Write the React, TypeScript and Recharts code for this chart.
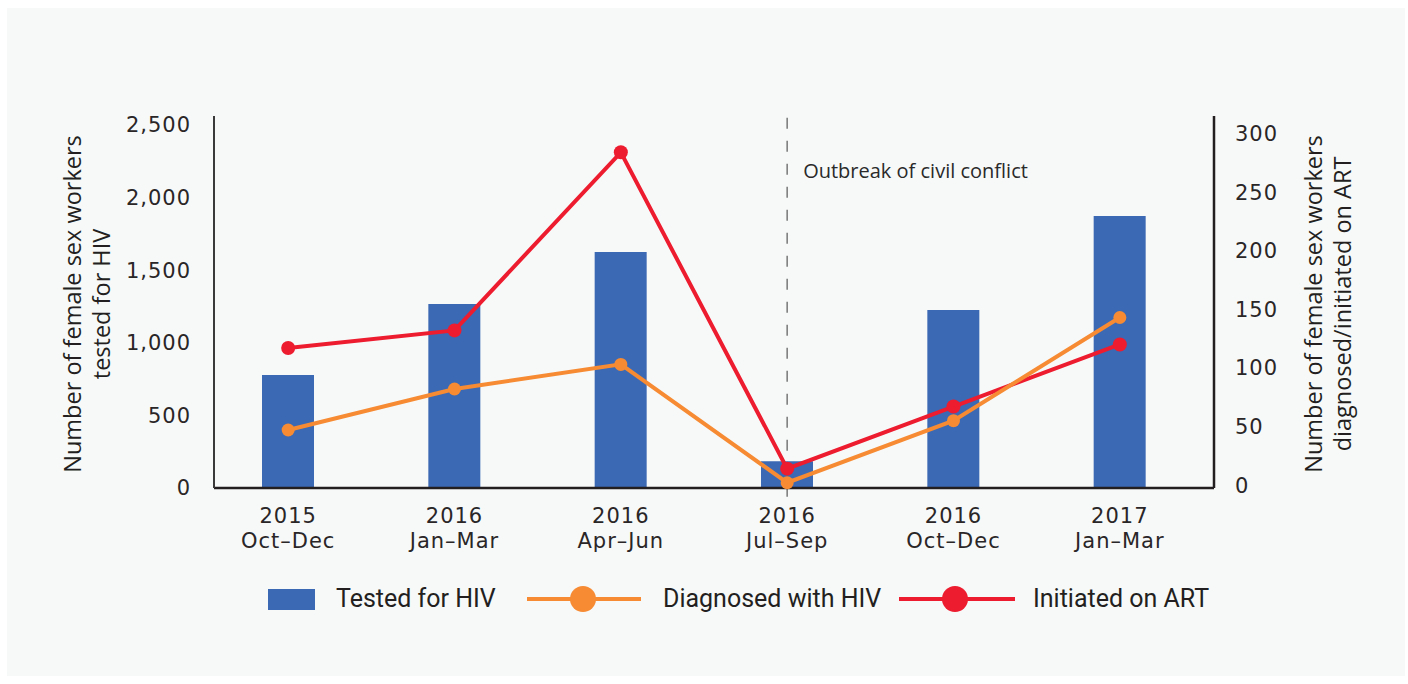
import { ComposedChart, Bar, Line, XAxis, YAxis, ReferenceLine, Legend, Label } from 'recharts';

const years = ['2015', '2016', '2016', '2016', '2016', '2017'];
const quarters = ['Oct–Dec', 'Jan–Mar', 'Apr–Jun', 'Jul–Sep', 'Oct–Dec', 'Jan–Mar'];
const tested = [778, 1267, 1625, 184, 1226, 1873];
const diagnosed = [47, 82, 103, 2, 55, 143];
const initiated = [117, 132, 284, 14, 67, 120];
const leftTicks = [0, 500, 1000, 1500, 2000, 2500];
const rightTicks = [0, 50, 100, 150, 200, 250, 300];
const conflictPeriod = '2016 Jul–Sep';

const data = years.map((y, i) => ({
  period: `${y} ${quarters[i]}`,
  tested: tested[i],
  diagnosed: diagnosed[i],
  initiated: initiated[i],
}));

const BLUE = '#3c69b3';
const ORANGE = '#f68b33';
const RED = '#ed1c2e';
const INK = '#231f20';
const tickFont = { fontFamily: 'DejaVu Sans', fontSize: 21, fill: '#2a2627', letterSpacing: 1 };
const titleFont = { fontFamily: 'Open Sans', fontSize: 23.5, fill: INK };

const PeriodTick = ({ x, y, payload }: any) => {
  const [yr, ...rest] = String(payload.value).split(' ');
  return (
    <g transform={`translate(${x},${y})`}>
      <text textAnchor="middle" {...tickFont}>
        <tspan x={0} y={35}>{yr}</tspan>
        <tspan x={0} y={60}>{rest.join(' ')}</tspan>
      </text>
    </g>
  );
};

const fmt = (v: number) => v.toLocaleString('en-US');

const AxisTitle = ({ cx, cy, lines }: { cx: number[]; cy: number; lines: string[] }) => (
  <g>
    {lines.map((t, i) => (
      <text key={i} transform={`translate(${cx[i]},${cy}) rotate(-90)`} textAnchor="middle" {...titleFont}>
        {t}
      </text>
    ))}
  </g>
);

// legend drawn by hand so the icons sit where the original puts them
const LegendBox = () => (
  <svg width={1408} height={40}>
    <rect x={268} y={10} width={47} height={21} fill={BLUE} />
    <text x={336} y={28} fontFamily="Roboto" fontSize={25} fill={INK}>Tested for HIV</text>
    <line x1={527} x2={641} y1={20} y2={20} stroke={ORANGE} strokeWidth={4} />
    <circle cx={583} cy={20} r={13} fill={ORANGE} />
    <text x={663} y={28} fontFamily="Roboto" fontSize={25} fill={INK}>Diagnosed with HIV</text>
    <line x1={899} x2={1015} y1={20} y2={20} stroke={RED} strokeWidth={4} />
    <circle cx={955} cy={20} r={13} fill={RED} />
    <text x={1033} y={28} fontFamily="Roboto" fontSize={25} fill={INK}>Initiated on ART</text>
  </svg>
);

export default function App() {
  return (
    <div style={{ position: 'absolute', left: 0, top: 0, width: 1408, height: 684, background: '#ffffff' }}>
      <div style={{ position: 'absolute', left: 7, top: 8, width: 1398, height: 668, background: '#f7f9f9' }} />
      <div style={{ position: 'absolute', left: 0, top: 0 }}>
        <ComposedChart
          width={1408}
          height={684}
          data={data}
          margin={{ top: 116, left: 134, right: 114, bottom: 136 }}
        >
          <XAxis
            dataKey="period"
            xAxisId="x"
            height={60}
            padding={{ left: -9, right: 11 }}
            tickLine={false}
            tickSize={0}
            tickMargin={0}
            axisLine={{ stroke: INK, strokeWidth: 2.5 }}
            tick={<PeriodTick />}
            interval={0}
          />
          <YAxis
            yAxisId="left"
            width={80}
            domain={[0, 2562]}
            ticks={leftTicks}
            tickFormatter={fmt}
            tickLine={false}
            tickSize={0}
            tickMargin={23}
            axisLine={{ stroke: '#3a3a3a', strokeWidth: 2 }}
            tick={tickFont}
          >
            <Label
              content={() => (
                <AxisTitle cx={[81, 110]} cy={304} lines={['Number of female sex workers', 'tested for HIV']} />
              )}
            />
          </YAxis>
          <YAxis
            yAxisId="right"
            orientation="right"
            width={80}
            domain={[-2.5, 315]}
            ticks={rightTicks}
            tickLine={false}
            tickSize={0}
            tickMargin={21}
            axisLine={{ stroke: INK, strokeWidth: 2.5 }}
            tick={{ ...tickFont, textAnchor: 'start' }}
          >
            <Label
              content={() => (
                <AxisTitle
                  cx={[1322, 1351]}
                  cy={304}
                  lines={['Number of female sex workers', 'diagnosed/initiated on ART']}
                />
              )}
            />
          </YAxis>
          <Legend
            verticalAlign="middle"
            align="center"
            layout="horizontal"
            wrapperStyle={{ top: 579, left: 0, width: 1408, height: 40 }}
            content={() => <LegendBox />}
          />
          <Bar
            dataKey="tested"
            xAxisId="x"
            yAxisId="left"
            fill={BLUE}
            barSize={52}
            isAnimationActive={false}
          />
          <ReferenceLine
            xAxisId="x"
            yAxisId="left"
            ifOverflow="visible"
            segment={[
              { x: conflictPeriod, y: -60 },
              { x: conflictPeriod, y: 2562 },
            ]}
            stroke="#7f7f7f"
            strokeWidth={1.6}
            strokeDasharray="11 12"
            label={(props: any) => {
              const vx = props?.viewBox?.x ?? 788;
              return (
                <text x={vx + 16} y={178} fontFamily="Open Sans" fontSize={20} fill="#2a2a2a">
                  Outbreak of civil conflict
                </text>
              );
            }}
          />
          <Line
            dataKey="initiated"
            xAxisId="x"
            yAxisId="right"
            stroke={RED}
            strokeWidth={4}
            dot={{ r: 7, fill: RED, stroke: RED, strokeWidth: 0 }}
            activeDot={false}
            isAnimationActive={false}
          />
          <Line
            dataKey="diagnosed"
            xAxisId="x"
            yAxisId="right"
            stroke={ORANGE}
            strokeWidth={4}
            dot={{ r: 6.5, fill: ORANGE, stroke: ORANGE, strokeWidth: 0 }}
            activeDot={false}
            isAnimationActive={false}
          />
        </ComposedChart>
      </div>
    </div>
  );
}
